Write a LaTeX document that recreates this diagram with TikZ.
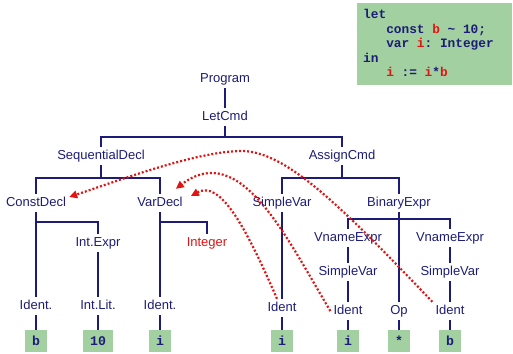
\documentclass[tikz,border=0pt]{standalone}
\usepackage{fontspec}
\setmainfont{Liberation Sans}
\setmonofont{Liberation Mono}
\usetikzlibrary{arrows.meta}
\definecolor{treeblue}{RGB}{28,28,120}
\definecolor{refred}{RGB}{225,20,20}
\definecolor{leafgreen}{RGB}{162,208,160}

\begin{document}
\begin{tikzpicture}[x=1pt, y=-1pt,
    every node/.style={text=treeblue},
    tnode/.style={font=\fontsize{13}{15}\selectfont, text height=9.5pt, text depth=2.5pt, inner sep=3pt},
    leafbox/.style={fill=leafgreen, font=\fontsize{13.2}{15}\selectfont\ttfamily\bfseries, minimum width=21pt, minimum height=22pt, inner xsep=7pt, text height=9pt, text depth=0pt},
    link/.style={draw=treeblue, line width=1.6pt},
    useline/.style={draw=refred, line width=2.2pt, dash pattern=on 2pt off 2pt, -{Triangle[length=8pt,width=7.5pt]}}]

    \useasboundingbox (0,0) rectangle (513,353);

    \fill[leafgreen] (357,3) rectangle (512,85);
    \node[anchor=north west, align=left, inner sep=0, font=\fontsize{12.8}{14.5}\selectfont\ttfamily\bfseries] (code) at (363,9.5) {let\\
        \phantom{xxx}const \textcolor{refred}{b} \textasciitilde{} 10;\\
        \phantom{xxx}var \textcolor{refred}{i}: Integer\\
        in\\
        \phantom{xxx}\textcolor{refred}{i} := \textcolor{refred}{i}*\textcolor{refred}{b}};

    \node[tnode] (prog) at (225,79) {Program};
    \node[tnode] (let) at (225,117) {LetCmd};
    \node[tnode] (seq) at (101,156) {SequentialDecl};
    \node[tnode] (assign) at (342,156) {AssignCmd};
    \node[tnode] (constd) at (36,203) {ConstDecl};
    \node[tnode] (vard) at (160,203) {VarDecl};
    \node[tnode] (svar) at (282,203) {SimpleVar};
    \node[tnode] (binexp) at (399,203) {BinaryExpr};
    \node[tnode] (intexp) at (98,243) {Int.Expr};
    \node[tnode, text=refred] (integ) at (207,243) {Integer};
    \node[tnode] (vname1) at (348,238) {VnameExpr};
    \node[tnode] (vname2) at (450,238) {VnameExpr};
    \node[tnode] (svar1) at (348,272) {SimpleVar};
    \node[tnode] (svar2) at (450,272) {SimpleVar};
    \node[tnode] (id1) at (36,306) {Ident.};
    \node[tnode] (lit) at (98,306) {Int.Lit.};
    \node[tnode] (id2) at (160,306) {Ident.};
    \node[tnode] (id3) at (282,308) {Ident};
    \node[tnode] (id4) at (348,311) {Ident};
    \node[tnode] (op) at (399,311) {Op};
    \node[tnode] (id5) at (450,311) {Ident};

    \node[leafbox] (lb) at (36,341) {b};
    \node[leafbox] (l10) at (98,341) {10};
    \node[leafbox] (li) at (160,341) {i};
    \node[leafbox] (ri1) at (282,341) {i};
    \node[leafbox] (ri2) at (348,341) {i};
    \node[leafbox] (rstar) at (399,341) {*};
    \node[leafbox] (rb) at (450,341) {b};

    \coordinate (bar1) at (225,137);
    \coordinate (bar2) at (101,178);
    \coordinate (bar3) at (342,178);
    \coordinate (bar4) at (36,222);
    \coordinate (bar5) at (160,222);
    \coordinate (bar6) at (399,219);

    \draw[link] (prog) -- (let);
    \draw[link] (let) -- (bar1);
    \draw[link] (seq) |- (bar1) -| (assign);
    \draw[link] (seq) -- (bar2);
    \draw[link] (constd) |- (bar2) -| (vard);
    \draw[link] (assign) -- (bar3);
    \draw[link] (svar) |- (bar3) -| (binexp);
    \draw[link] (constd) -- (id1);
    \draw[link] (bar4) -| (intexp);
    \draw[link] (intexp) -- (lit);
    \draw[link] (vard) -- (id2);
    \draw[link] (bar5) -| (integ);
    \draw[link] (svar) -- (id3);
    \draw[link] (binexp) -- (op);
    \draw[link] (vname1) |- (bar6) -| (vname2);
    \draw[link] (vname1) -- (svar1) -- (id4);
    \draw[link] (vname2) -- (svar2) -- (id5);
    \draw[link] (id1) -- (lb);
    \draw[link] (lit) -- (l10);
    \draw[link] (id2) -- (li);
    \draw[link] (id3) -- (ri1);
    \draw[link] (id4) -- (ri2);
    \draw[link] (op) -- (rstar);
    \draw[link] (id5) -- (rb);

    \draw[useline] (id5.north west) .. controls (340,205) and (285,150) .. (240,151)
        .. controls (195,152) and (120,180) .. ([yshift=6pt]constd.east);
    \draw[useline] (id4.west) .. controls (285,235) and (240,140) .. ([xshift=-10pt,yshift=5pt]vard.north east);
    \draw[useline] ([xshift=-5pt]id3.north) .. controls (245,225) and (220,180) .. ([xshift=5pt,yshift=7pt]vard.east);

\end{tikzpicture}
\end{document}
